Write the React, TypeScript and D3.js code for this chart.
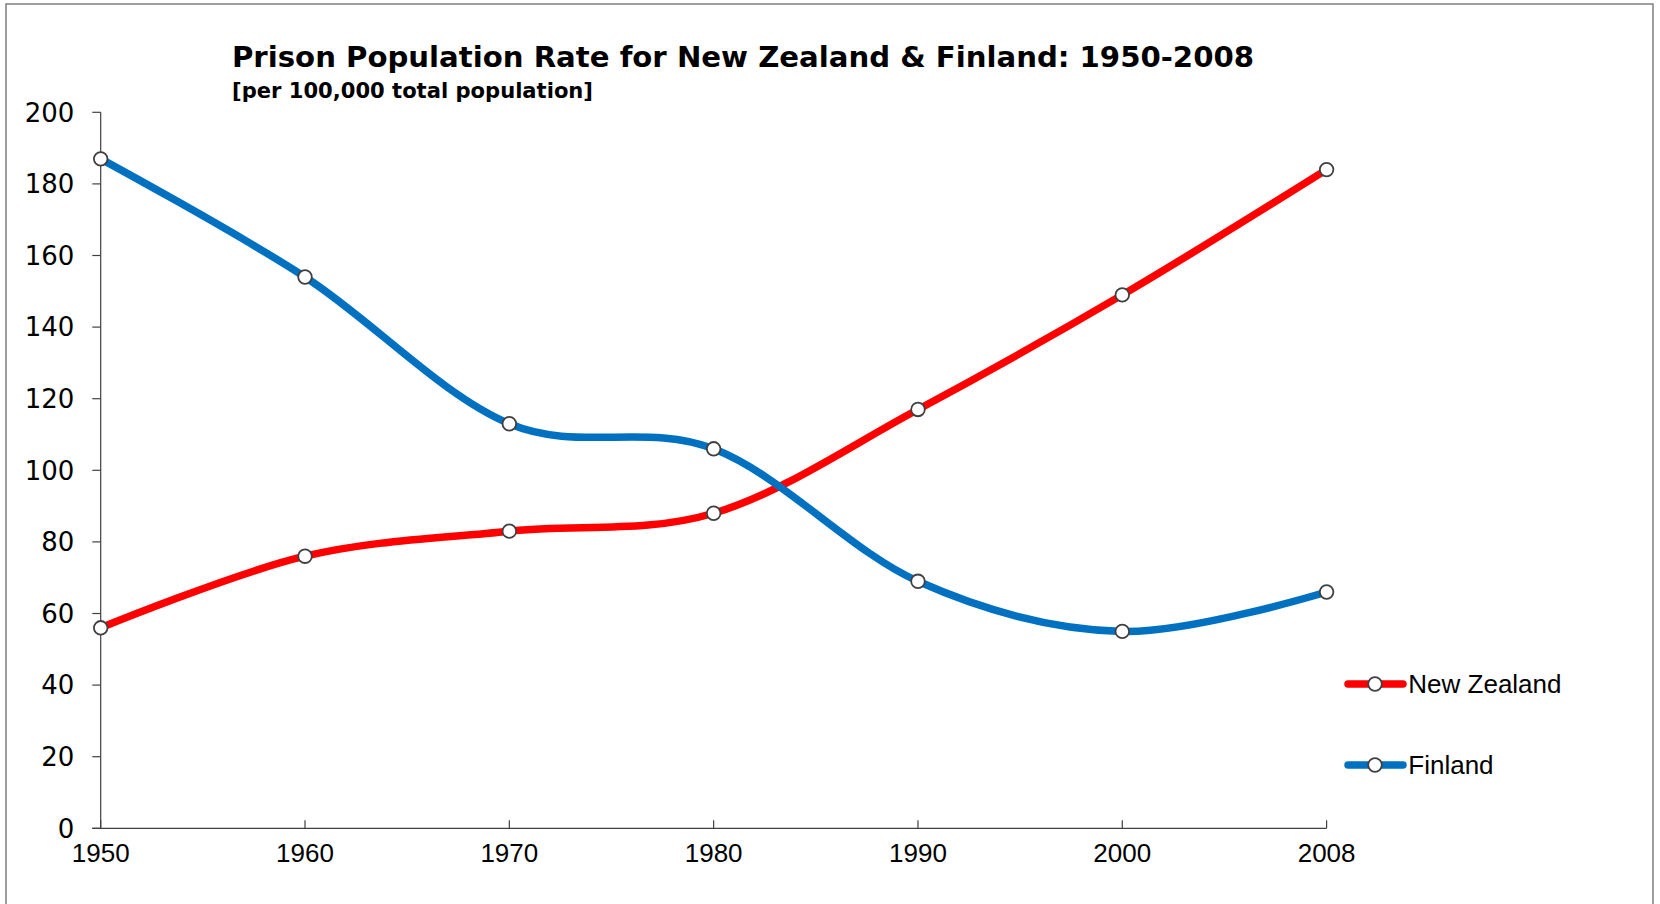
import React from "react";
import * as d3 from "d3";

const years = ["1950", "1960", "1970", "1980", "1990", "2000", "2008"];
const newZealand = [56, 76, 83, 88, 117, 149, 184];
const finland = [187, 154, 113, 106, 69, 55, 66];
const yTicks = [0, 20, 40, 60, 80, 100, 120, 140, 160, 180, 200];
const seriesNames = ["New Zealand", "Finland"];
const seriesColors = ["#FF0000", "#0070C0"];
const titleText = "Prison Population Rate for New Zealand & Finland: 1950-2008";
const subtitleText = "[per 100,000 total population]";

export default function App() {
  const W = 1660;
  const H = 904;
  const x = d3.scalePoint<string>().domain(years).range([100.7, 1326.6]).padding(0);
  const y = d3.scaleLinear().domain([0, 200]).range([828.3, 112.3]);
  const line = d3
    .line<number>()
    .x((_, i) => x(years[i]) as number)
    .y((d) => y(d))
    .curve(d3.curveCardinal.tension(0));
  const series = [newZealand, finland];
  const axisColor = "#404040";
  const legendY = [684, 765];

  return (
    <svg
      width={W}
      height={H}
      style={{ position: "absolute", left: 0, top: 0, background: "#fff" }}
    >
      <rect x={0} y={0} width={W} height={H} fill="#fff" />
      <rect x={6} y={4} width={1647} height={920} fill="none" stroke="#7f7f7f" strokeWidth={1.5} />
      <text
        x={232}
        y={66.5}
        fontFamily="Verdana, 'DejaVu Sans', sans-serif"
        fontWeight="bold"
        fontSize={29}
        textLength={1022}
        lengthAdjust="spacingAndGlyphs"
        fill="#000"
      >
        {titleText}
      </text>
      <text
        x={232}
        y={97.5}
        fontFamily="Verdana, 'DejaVu Sans', sans-serif"
        fontWeight="bold"
        fontSize={21.5}
        textLength={361}
        lengthAdjust="spacingAndGlyphs"
        fill="#000"
      >
        {subtitleText}
      </text>

      {/* Y axis */}
      <line x1={x(years[0])} x2={x(years[0])} y1={y(200)} y2={y(0)} stroke={axisColor} strokeWidth={1.2} />
      {yTicks.map((t) => (
        <g key={t}>
          <line x1={92.3} x2={x(years[0])} y1={y(t)} y2={y(t)} stroke={axisColor} strokeWidth={1.2} />
          <text
            x={74.3}
            y={y(t)}
            dy="0.36em"
            textAnchor="end"
            fontFamily="'DejaVu Sans', Verdana, sans-serif"
            fontSize={26}
            fill="#000"
          >
            {t}
          </text>
        </g>
      ))}

      {/* X axis */}
      <line x1={92.3} x2={x(years[years.length - 1])} y1={y(0)} y2={y(0)} stroke={axisColor} strokeWidth={1.2} />
      {years.map((yr) => (
        <g key={yr}>
          <line x1={x(yr)} x2={x(yr)} y1={y(0)} y2={y(0) - 8} stroke={axisColor} strokeWidth={1.2} />
          <text
            x={x(yr)}
            y={861.7}
            textAnchor="middle"
            fontFamily="'Liberation Sans', Arial, sans-serif"
            fontSize={26}
            fill="#000"
          >
            {yr}
          </text>
        </g>
      ))}

      {/* Series */}
      {series.map((s, si) => (
        <g key={si}>
          <path
            d={line(s) || ""}
            fill="none"
            stroke={seriesColors[si]}
            strokeWidth={7.5}
            strokeLinecap="round"
            strokeLinejoin="round"
          />
          {s.map((v, i) => (
            <circle
              key={i}
              cx={x(years[i])}
              cy={y(v)}
              r={6.8}
              fill="#fff"
              stroke={axisColor}
              strokeWidth={1.8}
            />
          ))}
        </g>
      ))}

      {/* Legend */}
      {seriesNames.map((n, i) => (
        <g key={n}>
          <line
            x1={1348}
            x2={1403}
            y1={legendY[i]}
            y2={legendY[i]}
            stroke={seriesColors[i]}
            strokeWidth={7.5}
            strokeLinecap="round"
          />
          <circle cx={1375} cy={legendY[i]} r={6.8} fill="#fff" stroke={axisColor} strokeWidth={1.8} />
          <text
            x={1408.3}
            y={legendY[i] + 9.3}
            fontFamily="'Liberation Sans', Arial, sans-serif"
            fontSize={26}
            fill="#000"
          >
            {n}
          </text>
        </g>
      ))}
    </svg>
  );
}
